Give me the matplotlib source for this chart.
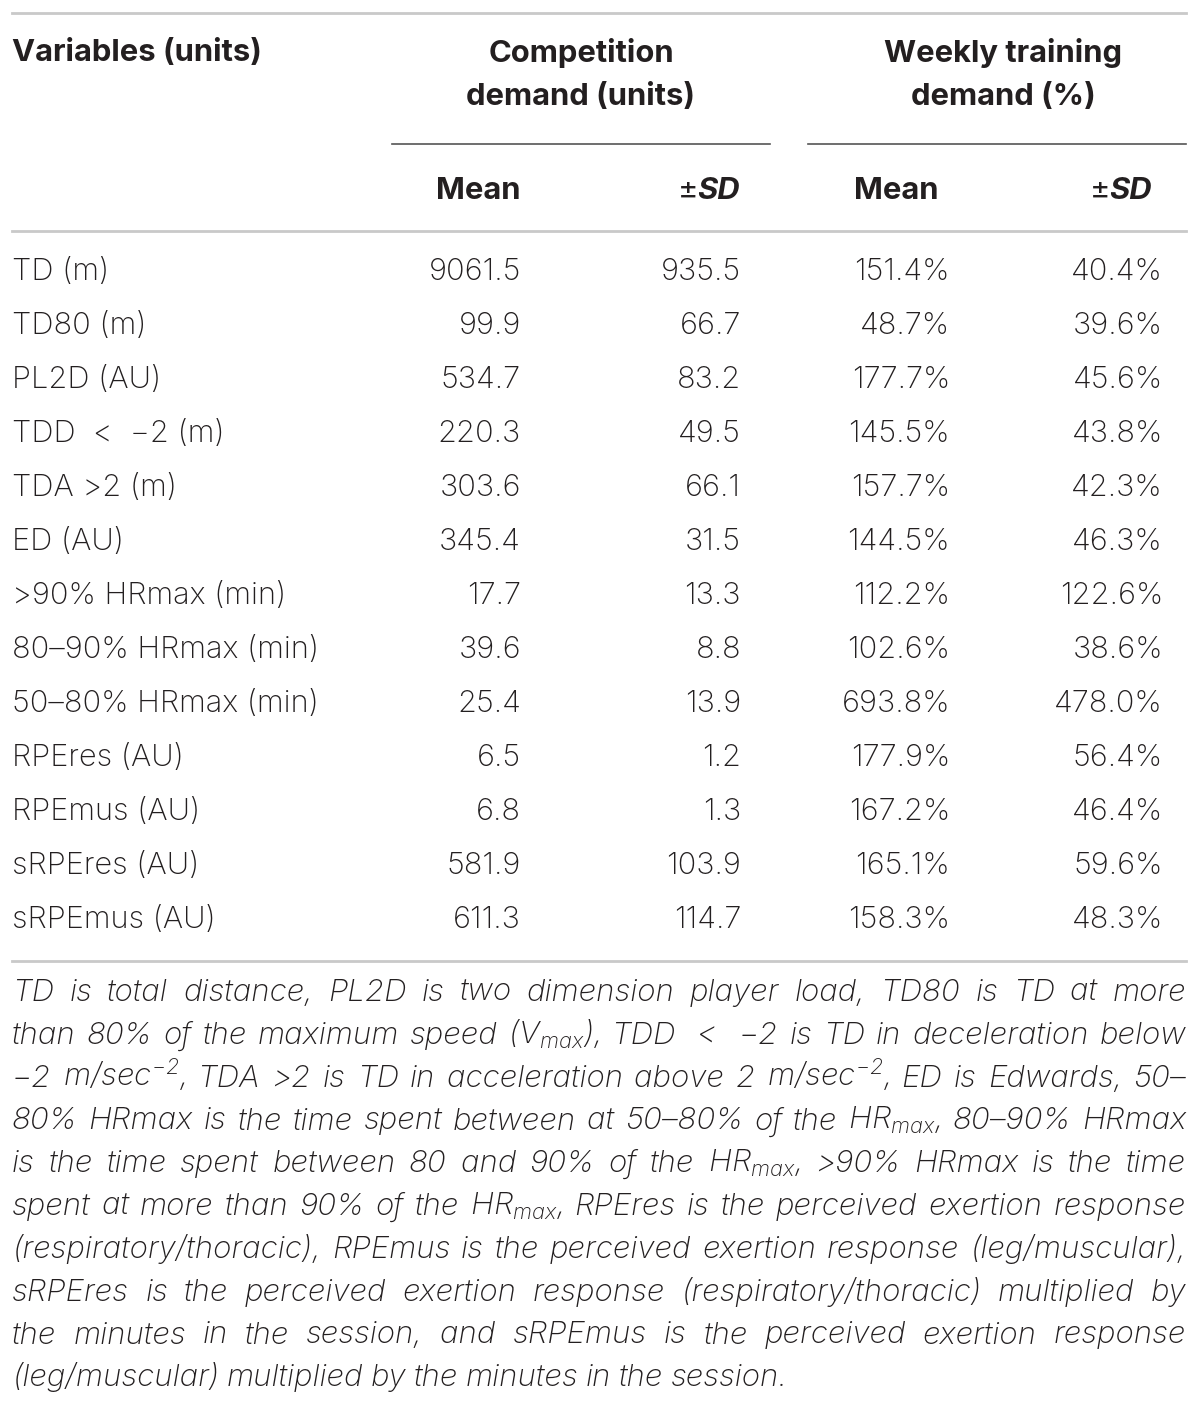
import matplotlib
matplotlib.use('Agg')
import matplotlib.pyplot as plt

plt.rcParams['font.family'] = ['Inter', 'DejaVu Sans']
plt.rcParams['mathtext.fontset'] = 'custom'
plt.rcParams['mathtext.it'] = 'Inter:italic:light'
plt.rcParams['mathtext.rm'] = 'Inter:italic:light'
plt.rcParams['mathtext.sf'] = 'Inter:italic:light'

# table content
variables = ['TD (m)', 'TD80 (m)', 'PL2D (AU)', 'TDD  <  \u22122 (m)', 'TDA >2 (m)',
             'ED (AU)', '>90% HRmax (min)', '80\u201390% HRmax (min)',
             '50\u201380% HRmax (min)', 'RPEres (AU)', 'RPEmus (AU)',
             'sRPEres (AU)', 'sRPEmus (AU)']
comp_mean = ['9061.5', '99.9', '534.7', '220.3', '303.6', '345.4', '17.7',
             '39.6', '25.4', '6.5', '6.8', '581.9', '611.3']
comp_sd = ['935.5', '66.7', '83.2', '49.5', '66.1', '31.5', '13.3', '8.8',
           '13.9', '1.2', '1.3', '103.9', '114.7']
week_mean = ['151.4%', '48.7%', '177.7%', '145.5%', '157.7%', '144.5%', '112.2%',
             '102.6%', '693.8%', '177.9%', '167.2%', '165.1%', '158.3%']
week_sd = ['40.4%', '39.6%', '45.6%', '43.8%', '42.3%', '46.3%', '122.6%',
           '38.6%', '478.0%', '56.4%', '46.4%', '59.6%', '48.3%']

footnote = [
    'TD is total distance, PL2D is two dimension player load, TD80 is TD at more',
    'than 80% of the maximum speed (V$_{max}$), TDD  <  \u22122 is TD in deceleration below',
    '\u22122 m/sec$^{-2}$, TDA >2 is TD in acceleration above 2 m/sec$^{-2}$, ED is Edwards, 50\u2013',
    '80% HRmax is the time spent between at 50\u201380% of the HR$_{max}$, 80\u201390% HRmax',
    'is the time spent between 80 and 90% of the HR$_{max}$, >90% HRmax is the time',
    'spent at more than 90% of the HR$_{max}$, RPEres is the perceived exertion response',
    '(respiratory/thoracic), RPEmus is the perceived exertion response (leg/muscular),',
    'sRPEres is the perceived exertion response (respiratory/thoracic) multiplied by',
    'the minutes in the session, and sRPEmus is the perceived exertion response',
    '(leg/muscular) multiplied by the minutes in the session.',
]

W, H = 1200, 1407
fig = plt.figure(figsize=(W / 100, H / 100), dpi=100)
ax = fig.add_axes([0, 0, 1, 1])
ax.set_xlim(0, W)
ax.set_ylim(H, 0)
ax.axis('off')

txt = '#231f20'
fs = 22.2
fsb = 22.3
fw_body = 'light'

# rules
ax.plot([12, 1186], [13, 13], color='#c9c9c9', lw=2)
ax.plot([392, 770], [144, 144], color='#555555', lw=1.2)
ax.plot([808, 1186], [144, 144], color='#555555', lw=1.2)
ax.plot([12, 1186], [231, 231], color='#c9c9c9', lw=2)
ax.plot([12, 1186], [961, 961], color='#c9c9c9', lw=2)

# header
ax.text(12, 53, 'Variables (units)', fontsize=fsb, fontweight='bold', color=txt, va='center')
ax.text(581, 53, 'Competition', fontsize=fsb, fontweight='bold', color=txt, va='center', ha='center')
ax.text(581, 97, 'demand (units)', fontsize=fsb, fontweight='bold', color=txt, va='center', ha='center')
ax.text(1003, 53, 'Weekly training', fontsize=fsb, fontweight='bold', color=txt, va='center', ha='center')
ax.text(1003, 97, 'demand (%)', fontsize=fsb, fontweight='bold', color=txt, va='center', ha='center')

col_x = [521, 741, 950, 1163]
ax.text(521, 191, 'Mean', fontsize=fsb, fontweight='bold', color=txt, va='center', ha='right')
ax.text(939, 191, 'Mean', fontsize=fsb, fontweight='bold', color=txt, va='center', ha='right')
fig.canvas.draw()
for x in [740, 1152]:
    t = ax.text(x, 191, 'SD', fontsize=fsb, fontweight='bold', fontstyle='italic',
                color=txt, va='center', ha='right')
    bb = t.get_window_extent(fig.canvas.get_renderer())
    ax.text(bb.x0 + 1, 191, '\u00b1', fontsize=fsb, fontweight='normal', color=txt, va='center', ha='right')

# body rows
y0, dy = 272, 54
for i in range(len(variables)):
    y = y0 + i * dy
    ax.text(12, y, variables[i], fontsize=fs, fontweight=fw_body, color=txt, va='center')
    for x, col in zip(col_x, [comp_mean, comp_sd, week_mean, week_sd]):
        ax.text(x, y, col[i], fontsize=fs, fontweight=fw_body, color=txt, va='center', ha='right')

# justified footnote
renderer = fig.canvas.get_renderer()
fy0, fdy = 993, 42.8
left, right = 12, 1186
ffs = 22.5
for j, line in enumerate(footnote):
    y = fy0 + j * fdy
    words = line.split(' ')
    items = []
    for w in words:
        t = ax.text(0, y, w, fontsize=ffs, fontstyle='italic', fontweight=fw_body,
                    color=txt, va='baseline')
        items.append(t)
    widths = [t.get_window_extent(renderer).width for t in items]
    if j == len(footnote) - 1:
        gap = 7.5
    else:
        gap = (right - left - sum(widths)) / (len(items) - 1)
    x = left
    for t, w in zip(items, widths):
        t.set_x(x)
        t.set_y(y + 8)
        x += w + gap

fig.savefig('out.png', dpi=100)
